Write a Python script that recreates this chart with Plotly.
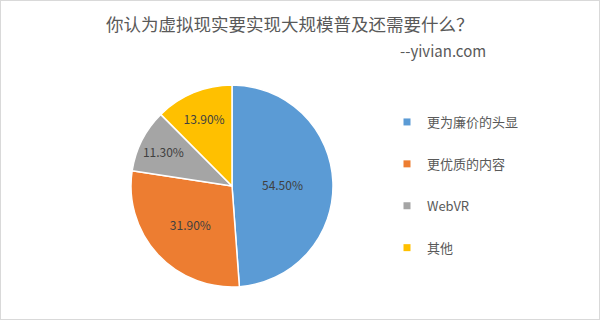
import plotly.graph_objects as go

categories = ["更为廉价的头显", "更优质的内容", "WebVR", "其他"]
values = [54.5, 31.9, 11.3, 13.9]
labels_text = ["54.50%", "31.90%", "11.30%", "13.90%"]
colors = ["#5B9BD5", "#ED7D31", "#A5A5A5", "#FFC000"]

W, H = 600, 320
cx, cy, r = 232, 186, 101

fig = go.Figure()
fig.add_trace(go.Pie(
    labels=categories, values=values, text=labels_text,
    textinfo="text", textposition="inside", insidetextorientation="horizontal",
    sort=False, direction="clockwise", rotation=0,
    marker=dict(colors=colors, line=dict(color="white", width=1.5)),
    textfont=dict(family="Noto Sans CJK SC", size=12, color="#404040"),
    domain=dict(x=[(cx - r) / W, (cx + r) / W], y=[(H - cy - r) / H, (H - cy + r) / H]),
    showlegend=False, hoverinfo="label+text",
))
for i, (c, col) in enumerate(zip(categories, colors)):
    fig.add_trace(go.Scatter(
        x=[None], y=[None], mode="markers", name=c, legendgroup=f"g{i}",
        marker=dict(symbol="square", size=7, color=col),
    ))

fig.update_layout(
    width=W, height=H, margin=dict(l=0, r=0, t=0, b=0),
    paper_bgcolor="white", plot_bgcolor="white",
    xaxis=dict(visible=False), yaxis=dict(visible=False),
    legend=dict(x=387 / W, y=1 - 107 / H, xanchor="left", yanchor="top",
                font=dict(family="Noto Sans CJK SC", size=13, color="#595959"),
                tracegroupgap=22, itemwidth=30, bgcolor="rgba(0,0,0,0)"),
    annotations=[
        dict(text="你认为虚拟现实要实现大规模普及还需要什么？", x=290 / W, y=1 - 23 / H,
             xref="paper", yref="paper", showarrow=False, xanchor="center", yanchor="middle",
             font=dict(family="Noto Sans CJK SC", size=17.5, color="#595959")),
        dict(text="--yivian.com", x=488 / W, y=1 - 50 / H,
             xref="paper", yref="paper", showarrow=False, xanchor="right", yanchor="middle",
             font=dict(family="Noto Sans CJK SC", size=15, color="#595959")),
    ],
    shapes=[dict(type="rect", xref="paper", yref="paper", x0=0, y0=0, x1=1, y1=1,
                 line=dict(color="#D9D9D9", width=2))],
)
fig.write_html("out.html")
